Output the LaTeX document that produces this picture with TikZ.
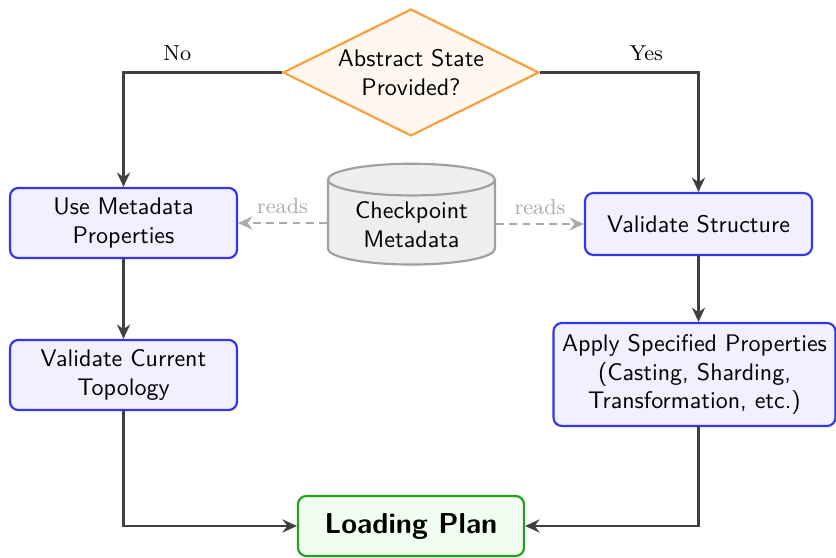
\documentclass[tikz,border=0pt]{standalone}
\usetikzlibrary{shapes.geometric,arrows.meta}
\renewcommand{\familydefault}{\sfdefault}
\definecolor{boxblue}{HTML}{3535EE}
\definecolor{fillblue}{HTML}{F0F0FE}
\definecolor{diaor}{HTML}{F7A03C}
\definecolor{fillor}{HTML}{FFF7F0}
\definecolor{grnb}{HTML}{22A022}
\definecolor{fillg}{HTML}{F0FDF0}
\definecolor{cylb}{HTML}{A0A0A0}
\definecolor{cylf}{HTML}{EEEEEE}
\definecolor{arr}{HTML}{404040}
\definecolor{rdc}{HTML}{AAAAAA}
\begin{document}
\begin{tikzpicture}[x=0.41667pt,y=-0.41667pt,
  procbox/.style={draw=boxblue,fill=fillblue,line width=0.9pt,rounded corners=3.5pt,align=center,minimum width=94.6pt,inner sep=2pt},
  flow/.style={draw=arr,line width=0.9pt,-{Stealth[length=6pt,width=5.5pt,inset=2pt]}},
  readarr/.style={draw=rdc,line width=0.9pt,dash pattern=on 3.3pt off 2.2pt,-{Stealth[length=6pt,width=5.5pt,inset=2pt]}},
  lbl/.style={font=\rmfamily\small,text=black}]
\useasboundingbox (0,0) rectangle (836,558);
\node[diamond,aspect=2,draw=diaor,fill=fillor,line width=0.9pt,minimum width=106.7pt,minimum height=52.9pt,inner sep=0pt,align=center] (dec) at (411,72.5) {Abstract State\\Provided?};
\node[procbox,minimum height=29.2pt] (usemeta) at (123.5,223) {Use Metadata\\Properties};
\node[procbox,minimum height=25.8pt] (valstruct) at (698.5,224) {Validate Structure};
\node[procbox,minimum height=29.2pt] (valtopo) at (123.5,375) {Validate Current\\Topology};
\node[procbox,minimum width=117.5pt,minimum height=42.9pt] (apply) at (694.5,374.5) {Apply Specified Properties\\(Casting, Sharding,\\Transformation, etc.)};
\node[draw=grnb,fill=fillg,line width=0.9pt,rounded corners=3.5pt,minimum width=94.2pt,minimum height=25pt,font=\large\bfseries] (plan) at (411,526) {Loading Plan};
\node[cylinder,shape border rotate=90,aspect=0.27,draw=cylb,fill=cylf,line width=0.9pt,minimum width=69.6pt,minimum height=42pt,align=center,inner sep=1pt] (ckpt) at (411.5,224.5) {Checkpoint\\Metadata};
\coordinate (lc) at (123.5,72.5);
\coordinate (rc) at (698.5,72.5);
\draw[flow] (dec.west) -- (lc) node[lbl,pos=0.66,above,yshift=1pt] {No} -- (usemeta.north);
\draw[flow] (dec.east) -- (rc) node[lbl,pos=0.67,above,yshift=1pt] {Yes} -- (valstruct.north);
\draw[readarr] (ckpt.west |- usemeta.east) -- (usemeta.east) node[lbl,midway,above,text=rdc] {reads};
\draw[readarr] (ckpt.east |- valstruct.west) -- (valstruct.west) node[lbl,midway,above,text=rdc] {reads};
\draw[flow] (usemeta) -- (valtopo);
\draw[flow] (valstruct.south) -- (valstruct.south |- apply.north);
\draw[flow] (valtopo.south) |- (plan.west);
\draw[flow] (apply.south -| valstruct.south) |- (plan.east);
\end{tikzpicture}
\end{document}
